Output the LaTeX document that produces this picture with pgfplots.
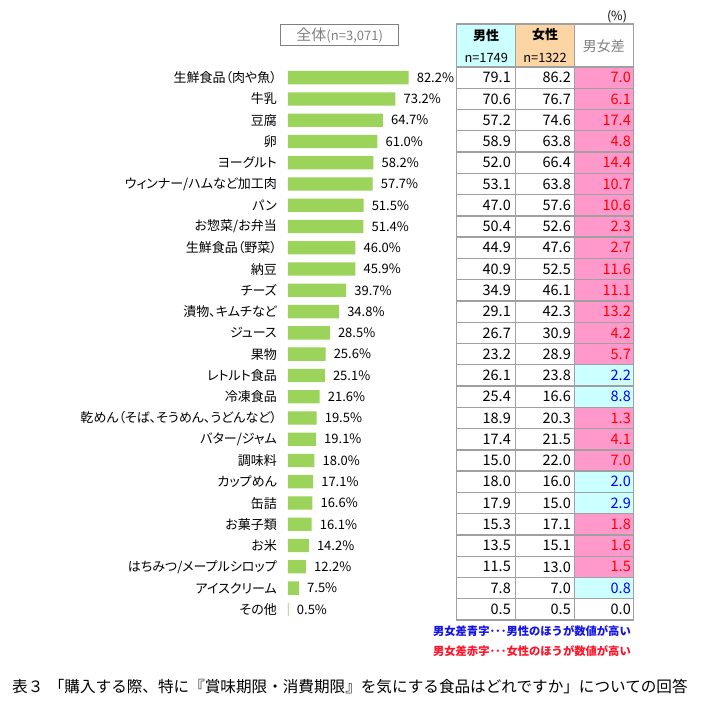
\documentclass[border=0pt]{standalone}
\usepackage{pgfplots}
\pgfplotsset{compat=1.18}
\usepackage{pgfplotstable}
\usepackage{fontspec}
\setmainfont{Noto Sans CJK JP}
\newfontfamily\labelfont[RawFeature=+palt]{Noto Sans CJK JP}
\definecolor{bargreen}{RGB}{155,211,91}
\definecolor{cellpink}{RGB}{255,153,204}
\definecolor{cellcyan}{RGB}{204,255,255}
\definecolor{cellorange}{RGB}{252,213,165}
\definecolor{gridgray}{RGB}{160,160,160}
\definecolor{txtgray}{RGB}{128,128,128}
\definecolor{noteblue}{RGB}{20,20,230}
\definecolor{notered}{RGB}{255,20,40}

\pgfplotstableread{
idx pct male female diff sign label
0 82.2 79.1 86.2 7.0 1 生鮮食品（肉や魚）
1 73.2 70.6 76.7 6.1 1 牛乳
2 64.7 57.2 74.6 17.4 1 豆腐
3 61.0 58.9 63.8 4.8 1 卵
4 58.2 52.0 66.4 14.4 1 ヨーグルト
5 57.7 53.1 63.8 10.7 1 ウィンナー/ハムなど加工肉
6 51.5 47.0 57.6 10.6 1 パン
7 51.4 50.4 52.6 2.3 1 お惣菜/お弁当
8 46.0 44.9 47.6 2.7 1 生鮮食品（野菜）
9 45.9 40.9 52.5 11.6 1 納豆
10 39.7 34.9 46.1 11.1 1 チーズ
11 34.8 29.1 42.3 13.2 1 漬物、キムチなど
12 28.5 26.7 30.9 4.2 1 ジュース
13 25.6 23.2 28.9 5.7 1 果物
14 25.1 26.1 23.8 2.2 -1 レトルト食品
15 21.6 25.4 16.6 8.8 -1 冷凍食品
16 19.5 18.9 20.3 1.3 1 乾めん（そば、そうめん、うどんなど）
17 19.1 17.4 21.5 4.1 1 バター/ジャム
18 18.0 15.0 22.0 7.0 1 調味料
19 17.1 18.0 16.0 2.0 -1 カップめん
20 16.6 17.9 15.0 2.9 -1 缶詰
21 16.1 15.3 17.1 1.8 1 お菓子類
22 14.2 13.5 15.1 1.6 1 お米
23 12.2 11.5 13.0 1.5 1 はちみつ/メープルシロップ
24 7.5 7.8 7.0 0.8 -1 アイスクリーム
25 0.5 0.5 0.5 0.0 0 その他
}\datatable

\begin{document}
\begin{tikzpicture}[x=1pt,y=1pt]
\path[use as bounding box] (0,0) rectangle (710,-705);

% ---------- bar chart ----------
\begin{axis}[
  at={(288pt,-620pt)}, anchor=south west,
  scale only axis, width=146.7pt, height=553pt,
  xmin=0, xmax=100, ymin=-0.5, ymax=25.5, y dir=reverse,
  axis line style={draw=none}, major tick length=0pt,
  xtick=\empty, ytick={0,...,25},
  yticklabels from table={\datatable}{label},
  yticklabel style={font=\labelfont\fontsize{13}{15}\selectfont, inner sep=0pt, xshift=-11pt},
  clip=false,
]
\addplot[xbar, bar shift=0pt, bar width=13.3pt, fill=bargreen, draw=none,
  point meta=explicit symbolic,
  nodes near coords={\pgfplotspointmeta\%},
  every node near coord/.append style={anchor=west, inner sep=0pt, xshift=8pt,
     font=\fontsize{13}{15}\selectfont}]
  table[x=pct, y=idx, meta=pct] {\datatable};
\end{axis}

% ---------- diff column backgrounds ----------
\begin{axis}[
  at={(574.3pt,-620pt)}, anchor=south west,
  scale only axis, width=59pt, height=553pt,
  xmin=0, xmax=1, ymin=-0.5, ymax=25.5, y dir=reverse,
  hide axis, clip=false,
]
\addplot[xbar, bar shift=0pt, bar width=1, fill=cellpink, draw=none,
  restrict expr to domain={\thisrow{sign}}{0.5:1.5}]
  table[x expr=1, y=idx] {\datatable};
\addplot[xbar, bar shift=0pt, bar width=1, fill=cellcyan, draw=none,
  restrict expr to domain={\thisrow{sign}}{-1.5:-0.5}]
  table[x expr=1, y=idx] {\datatable};
\end{axis}

% ---------- table ----------
\begin{axis}[
  at={(456.7pt,-620pt)}, anchor=south west,
  scale only axis, width=176.6pt, height=596pt,
  xmin=456.7, xmax=633.3, ymin=-2.52, ymax=25.5, y dir=reverse,
  axis on top,
  axis line style={draw=gridgray, line width=1.3pt},
  major tick length=0pt,
  xtick={515.7,574.3}, ytick={-0.5,0.5,...,24.5},
  xticklabels={}, yticklabels={},
  xmajorgrids, ymajorgrids,
  grid style={draw=gridgray, line width=1.3pt},
  clip=false,
]
\fill[cellcyan] (axis cs:456.7,-2.52) rectangle (axis cs:515.7,-0.5);
\fill[cellorange] (axis cs:515.7,-2.52) rectangle (axis cs:574.3,-0.5);
\node[font=\fontsize{13}{15}\selectfont\bfseries] at (axis cs:486.2,-2.0) {男性};
\node[font=\fontsize{12.8}{14}\selectfont] at (axis cs:486.2,-0.93) {n=1749};
\node[font=\fontsize{13}{15}\selectfont\bfseries] at (axis cs:545,-2.0) {女性};
\node[font=\fontsize{12.8}{14}\selectfont] at (axis cs:545,-0.93) {n=1322};
\node[font=\fontsize{14}{16}\selectfont, text=txtgray] at (axis cs:603.8,-1.5) {男女差};
\node[font=\fontsize{12.5}{14}\selectfont] at (axis cs:617,-2.85) {(\%)};

\addplot[draw=none, mark=none, point meta=explicit symbolic,
  nodes near coords={\pgfplotspointmeta},
  every node near coord/.append style={anchor=east, inner sep=0pt,
     font=\fontsize{14.5}{16}\selectfont}]
  table[x expr=511, y=idx, meta=male] {\datatable};
\addplot[draw=none, mark=none, point meta=explicit symbolic,
  nodes near coords={\pgfplotspointmeta},
  every node near coord/.append style={anchor=east, inner sep=0pt,
     font=\fontsize{14.5}{16}\selectfont}]
  table[x expr=571, y=idx, meta=female] {\datatable};
\addplot[draw=none, mark=none, point meta=explicit symbolic,
  restrict expr to domain={\thisrow{sign}}{0.5:1.5},
  nodes near coords={\pgfplotspointmeta},
  every node near coord/.append style={anchor=east, inner sep=0pt, text=red,
     font=\fontsize{14.5}{16}\selectfont}]
  table[x expr=631, y=idx, meta=diff] {\datatable};
\addplot[draw=none, mark=none, point meta=explicit symbolic,
  restrict expr to domain={\thisrow{sign}}{-1.5:-0.5},
  nodes near coords={\pgfplotspointmeta},
  every node near coord/.append style={anchor=east, inner sep=0pt, text=blue,
     font=\fontsize{14.5}{16}\selectfont}]
  table[x expr=631, y=idx, meta=diff] {\datatable};
\addplot[draw=none, mark=none, point meta=explicit symbolic,
  restrict expr to domain={\thisrow{sign}}{-0.5:0.5},
  nodes near coords={\pgfplotspointmeta},
  every node near coord/.append style={anchor=east, inner sep=0pt, text=black,
     font=\fontsize{14.5}{16}\selectfont}]
  table[x expr=631, y=idx, meta=diff] {\datatable};
\end{axis}

% ---------- overall box ----------
\draw[txtgray, line width=1.2pt] (280.7,-24.3) rectangle (398.7,-45.7);
\node[text=txtgray, anchor=center] at (339.7,-35) {\fontsize{15}{17}\selectfont 全体\fontsize{13}{15}\selectfont(n=3,071)};

% ---------- notes and caption ----------
\node[anchor=east, text=noteblue, font=\fontsize{11.3}{13}\selectfont\bfseries, inner sep=0pt] at (631,-631) {男女差青字･･･男性のほうが数値が高い};
\node[anchor=east, text=notered, font=\fontsize{11.3}{13}\selectfont\bfseries, inner sep=0pt] at (631,-651) {男女差赤字･･･女性のほうが数値が高い};
\node[anchor=west, font=\fontsize{15.6}{17}\selectfont, inner sep=0pt] at (12,-687) {表３\hspace{0.35em}「購入する際、特に『賞味期限・消費期限』を気にする食品はどれですか」についての回答};
\end{tikzpicture}
\end{document}
